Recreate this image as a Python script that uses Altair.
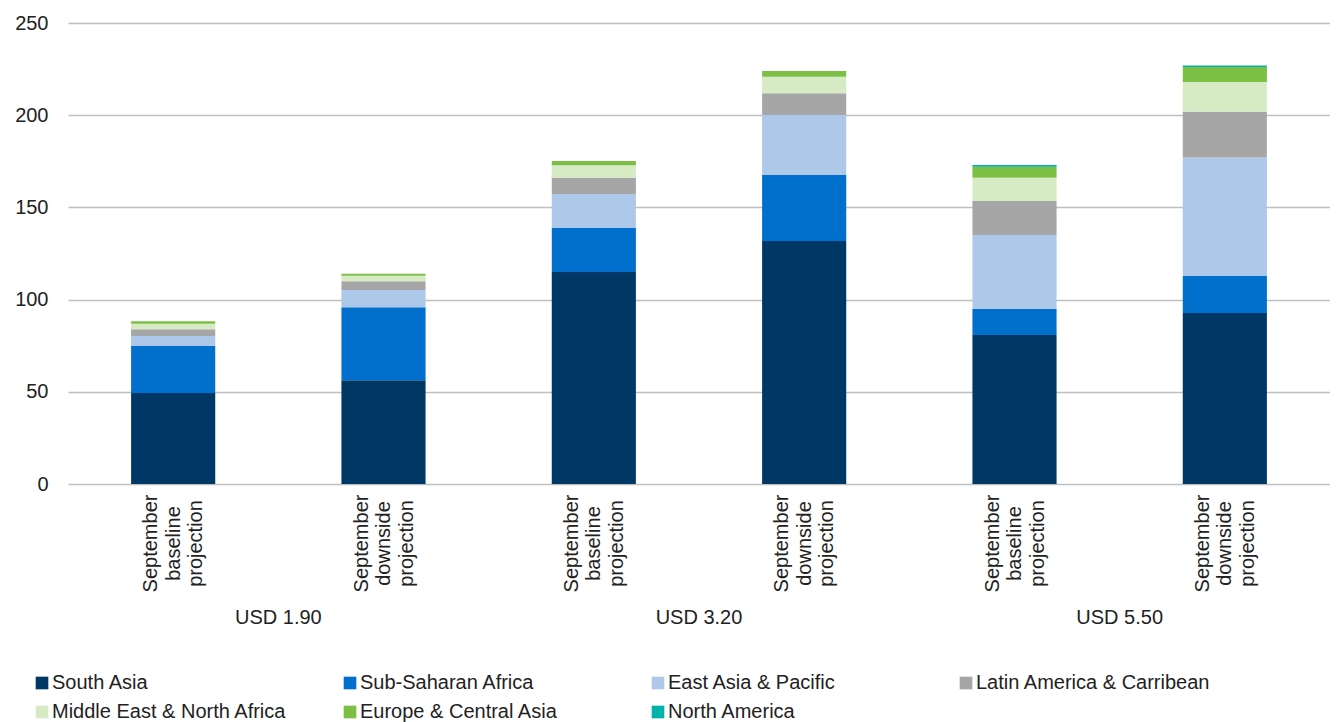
import altair as alt
import pandas as pd

regions = [
    "South Asia",
    "Sub-Saharan Africa",
    "East Asia & Pacific",
    "Latin America & Carribean",
    "Middle East & North Africa",
    "Europe & Central Asia",
    "North America",
]
colors = ["#003865", "#0070CC", "#ADC8E8", "#A6A6A6", "#D6EAC4", "#7BBF44", "#00B2A9"]

group_names = ["USD 1.90", "USD 3.20", "USD 5.50"]
bar_groups = ["USD 1.90", "USD 1.90", "USD 3.20", "USD 3.20", "USD 5.50", "USD 5.50"]
bar_scenarios = ["baseline", "downside", "baseline", "downside", "baseline", "downside"]

south_asia = [49.3, 56.2, 115.0, 131.8, 80.8, 92.7]
sub_saharan = [25.5, 39.6, 23.8, 35.8, 14.1, 20.1]
east_asia = [5.5, 9.4, 18.5, 32.5, 40.1, 64.2]
latin_america = [3.6, 4.7, 8.8, 11.8, 18.5, 24.9]
middle_east = [3.0, 3.1, 6.7, 9.0, 12.6, 16.1]
europe_ca = [1.3, 1.0, 2.4, 3.1, 6.0, 8.1]
north_america = [0.0, 0.0, 0.0, 0.0, 0.9, 0.8]

series = [south_asia, sub_saharan, east_asia, latin_america, middle_east, europe_ca, north_america]
bar_keys = [f"{g}|{s}" for g, s in zip(bar_groups, bar_scenarios)]

rows = []
for ri, (reg, vals) in enumerate(zip(regions, series)):
    for k, v in zip(bar_keys, vals):
        rows.append({"bar": k, "region": reg, "value": v, "order": ri})
df = pd.DataFrame(rows)

FONT = "Liberation Sans"
TXT = "#222222"
FS = 20

bars = alt.Chart(df).mark_bar().encode(
    x=alt.X(
        "bar:N",
        sort=bar_keys,
        scale=alt.Scale(paddingInner=0.6, paddingOuter=0.3),
        axis=alt.Axis(
            title=None,
            labelExpr="['September', split(datum.value, '|')[1], 'projection']",
            labelAngle=270,
            labelAlign="center",
            labelBaseline="middle",
            labelPadding=59,
            labelOffset=-22,
            labelLineHeight=22.5,
            ticks=False,
            domain=False,
            grid=False,
            labelFontSize=FS,
            labelFont=FONT,
            labelColor=TXT,
            labelOverlap=False,
        ),
    ),
    y=alt.Y(
        "value:Q",
        stack="zero",
        scale=alt.Scale(domain=[0, 250], nice=False),
        axis=alt.Axis(
            values=[0, 50, 100, 150, 200, 250],
            title=None,
            ticks=False,
            domain=False,
            gridColor="#BFBFBF",
            gridWidth=1.5,
            labelPadding=20,
            labelFontSize=FS,
            labelFont=FONT,
            labelColor=TXT,
        ),
    ),
    color=alt.Color(
        "region:N",
        sort=regions,
        scale=alt.Scale(domain=regions, range=colors),
        legend=alt.Legend(
            title=None,
            orient="none",
            legendX=-36,
            legendY=650,
            direction="horizontal",
            columns=4,
            gridAlign="all",
            columnPadding=53,
            rowPadding=9,
            symbolType="square",
            symbolSize=160,
            symbolStrokeWidth=0,
            labelFontSize=FS,
            labelFont=FONT,
            labelColor=TXT,
            labelLimit=400,
            labelOffset=0,
        ),
    ),
    order=alt.Order("order:Q", sort="ascending"),
)

gdf = pd.DataFrame({"group": group_names})
glabels = alt.Chart(gdf).mark_text(
    fontSize=FS, font=FONT, color=TXT, baseline="middle", align="center"
).encode(
    x=alt.X("group:N", sort=group_names, axis=None, scale=alt.Scale(type="point", padding=0.5)),
    y=alt.value(595),
    text="group:N",
)

chart = (
    alt.layer(bars, glabels)
    .resolve_scale(x="independent")
    .properties(
        width=1262,
        height=461,
        padding={"left": 6, "top": 5, "right": 0, "bottom": 0},
        background="white",
    )
    .configure_view(stroke=None)
)

chart.save("out.html", embed_options={"renderer": "svg", "actions": False})
